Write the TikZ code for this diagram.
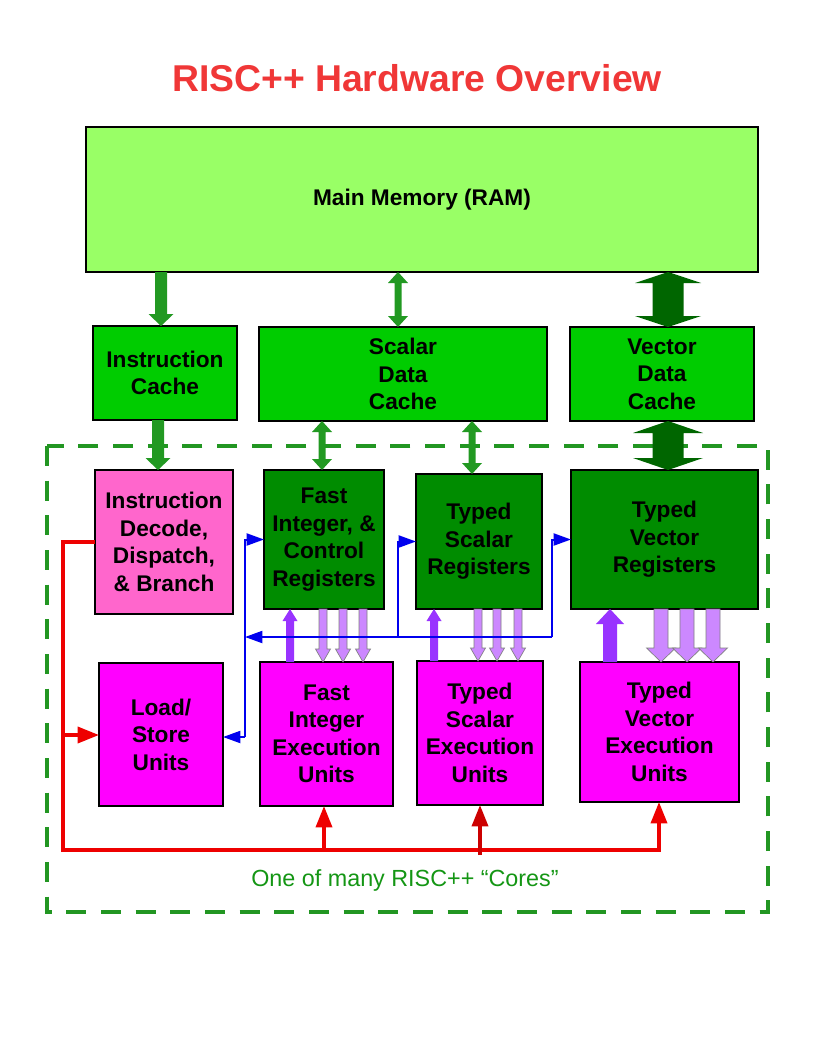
\documentclass[tikz,border=0pt]{standalone}
\usepackage{fontspec}
\setmainfont{Liberation Sans}
\usetikzlibrary{calc,arrows.meta}
\definecolor{memgreen}{RGB}{153,255,102}
\definecolor{cachegreen}{RGB}{0,204,0}
\definecolor{reggreen}{RGB}{0,140,0}
\definecolor{decpink}{RGB}{255,102,204}
\definecolor{execmag}{RGB}{255,0,255}
\definecolor{arrgreen}{RGB}{34,153,34}
\definecolor{darkarr}{RGB}{0,102,0}
\definecolor{frameg}{RGB}{34,150,34}
\definecolor{violetup}{RGB}{153,51,255}
\definecolor{lilac}{RGB}{204,136,255}
\definecolor{blueln}{RGB}{0,0,238}
\definecolor{redln}{RGB}{238,0,0}
\definecolor{darkredln}{RGB}{204,0,0}
\definecolor{titlered}{RGB}{240,55,55}
\definecolor{capgreen}{RGB}{20,150,20}
\newcommand\blockarrow[6]{%
  \pgfmathsetlengthmacro\bsw{#4*0.75pt}%
  \pgfmathsetlengthmacro\bhw{#5*0.75pt}%
  \pgfmathsetlengthmacro\bhl{#6*0.75pt}%
  \path[#1] let \p1=(#2), \p2=(#3), \p3=($(#3)!\bhl!(#2)$) in
    (\x1-\bsw,\y1) -- (\x1-\bsw,\y3) -- (\x1-\bhw,\y3) -- (\x2,\y2) --
    (\x1+\bhw,\y3) -- (\x1+\bsw,\y3) -- (\x1+\bsw,\y1) -- cycle;}
\newcommand\dblarrow[6]{%
  \pgfmathsetlengthmacro\bsw{#4*0.75pt}%
  \pgfmathsetlengthmacro\bhw{#5*0.75pt}%
  \pgfmathsetlengthmacro\bhl{#6*0.75pt}%
  \path[#1] let \p1=(#2), \p2=(#3), \p3=($(#3)!\bhl!(#2)$), \p4=($(#2)!\bhl!(#3)$) in
    (\x1,\y1) -- (\x1+\bhw,\y4) -- (\x1+\bsw,\y4) -- (\x1+\bsw,\y3) --
    (\x1+\bhw,\y3) -- (\x2,\y2) -- (\x1-\bhw,\y3) -- (\x1-\bsw,\y3) --
    (\x1-\bsw,\y4) -- (\x1-\bhw,\y4) -- cycle;}
\tikzset{
  box/.style={draw=black, line width=1.1pt, inner sep=0pt, outer sep=0pt, align=center,
    font=\fontsize{17}{20.6}\selectfont\bfseries},
  sz/.style 2 args={minimum width=#1*0.75pt, minimum height=#2*0.75pt},
  memstyle/.style={box, fill=memgreen},
  cachestyle/.style={box, fill=cachegreen},
  regstyle/.style={box, fill=reggreen},
  decstyle/.style={box, fill=decpink},
  execstyle/.style={box, fill=execmag},
  garrow/.style={fill=arrgreen},
  dgarrow/.style={fill=darkarr},
  uparrow/.style={fill=violetup},
  downarrow/.style={fill=lilac, draw=gray, line width=0.5pt},
  bluewire/.style={draw=blueln, line width=1.5pt},
  bluetip/.style={bluewire, -{Triangle[length=13pt,width=9pt]}},
  redwire/.style={draw=redln, line width=2.6pt},
  redtip/.style={redwire, -{Triangle[length=16pt,width=12pt]}},
}
\begin{document}
\begin{tikzpicture}[x=0.75pt,y=-0.75pt]
\path[use as bounding box, fill=white] (0,0) rectangle (816,1056);

\node[font=\fontsize{28}{32}\selectfont\bfseries, text=titlered, anchor=base] (title) at (417,92) {RISC++ Hardware Overview};

% frame
\draw[frameg, line width=2.4pt, dash pattern=on 15pt off 11pt] (47,446) rectangle (768,912);
\node[font=\fontsize{17.5}{20}\selectfont, text=capgreen] (cap) at (405,880) {One of many RISC++ “Cores”};

% boxes
\node[memstyle, sz={672}{145}] (mem) at (422,199.5) {\rule{0pt}{8pt}Main Memory (RAM)};
\node[cachestyle, sz={144}{94}] (ic) at (165,373) {Instruction\\Cache};
\node[cachestyle, sz={288}{94}] (sdc) at (403,374) {Scalar\\Data\\Cache};
\node[cachestyle, sz={184}{94}] (vdc) at (662,374) {Vector\\Data\\Cache};
\node[decstyle, sz={138}{144}] (idd) at (164,542) {Instruction\\Decode,\\Dispatch,\\\& Branch};
\node[regstyle, sz={120}{139}] (fir) at (324,539.5) {Fast\\Integer, \&\\Control\\Registers};
\node[regstyle, sz={126}{135}] (tsr) at (479,541.5) {Typed\\Scalar\\Registers};
\node[regstyle, sz={187}{139}] (tvr) at (664.5,539.5) {Typed\\Vector\\Registers};
\node[execstyle, sz={124}{143}] (ls) at (161,734.5) {Load/\\Store\\Units};
\node[execstyle, sz={133}{144}] (fie) at (326.5,734) {Fast\\Integer\\Execution\\Units};
\node[execstyle, sz={126}{144}] (tse) at (480,733) {Typed\\Scalar\\Execution\\Units};
\node[execstyle, sz={159}{140}] (tve) at (659.5,732) {Typed\\Vector\\Execution\\Units};

% memory <-> caches
\blockarrow{garrow}{161,0 |- mem.south}{161,0 |- ic.north}{6}{12.5}{12}
\dblarrow{garrow}{398,0 |- mem.south}{398,0 |- sdc.north}{3.5}{10}{11}
\dblarrow{dgarrow}{668,0 |- mem.south}{668,0 |- vdc.north}{15.5}{33}{11}

% caches -> core
\blockarrow{garrow}{158,0 |- ic.south}{158,0 |- idd.north}{6}{12.5}{12}
\dblarrow{garrow}{322,0 |- sdc.south}{322,0 |- fir.north}{3.5}{10}{11}
\dblarrow{garrow}{472,0 |- sdc.south}{472,0 |- tsr.north}{3.5}{10}{11}
\dblarrow{dgarrow}{668,0 |- vdc.south}{668,0 |- tvr.north}{15.5}{35}{12}

% registers <-> execution units
\blockarrow{uparrow}{290,0 |- fie.north}{290,0 |- fir.south}{4}{7.5}{12}
\foreach \xx in {323,343,363}{\blockarrow{downarrow}{\xx,0 |- fir.south}{\xx,0 |- fie.north}{4}{7.5}{13}}
\blockarrow{uparrow}{434,0 |- tse.north}{434,0 |- tsr.south}{4}{7.5}{12}
\foreach \xx in {478,497,518}{\blockarrow{downarrow}{\xx,0 |- tsr.south}{\xx,0 |- tse.north}{4}{7.5}{13}}
\blockarrow{uparrow}{610,0 |- tve.north}{610,0 |- tvr.south}{7}{14}{15}
\foreach \xx in {661,687,713}{\blockarrow{downarrow}{\xx,0 |- tvr.south}{\xx,0 |- tve.north}{7}{14.5}{14}}

% blue load/store bus
\coordinate (busR) at (552,637);
\coordinate (busM) at (398,637);
\coordinate (busL) at (245,637);
\coordinate (busLbot) at (245,737);
\draw[bluetip] (busR) -- (busL);
\draw[bluetip] (busR) |- (tvr.west);
\draw[bluetip] (busM) |- (tsr.west);
\draw[bluetip] (busLbot) |- (fir.west);
\draw[bluetip] (busLbot) -- (ls.east |- busLbot);

% red control lines
\coordinate (rTop) at (63,542);
\coordinate (rMid) at (63,735);
\coordinate (rBot) at (63,850);
\coordinate (rA) at (324,850);
\coordinate (rB) at (480,850);
\coordinate (rC) at (659,850);
\draw[redtip, line join=miter] (idd.west |- rTop) -- (rTop) -- (rBot) -- (rC) -- (rC |- tve.south);
\draw[redtip] (rMid) -- (ls.west |- rMid);
\draw[redtip] (rA) -- (rA |- fie.south);
\draw[redtip, draw=darkredln] ($(rB)+(0,5)$) -- (rB |- tse.south);
\end{tikzpicture}
\end{document}
